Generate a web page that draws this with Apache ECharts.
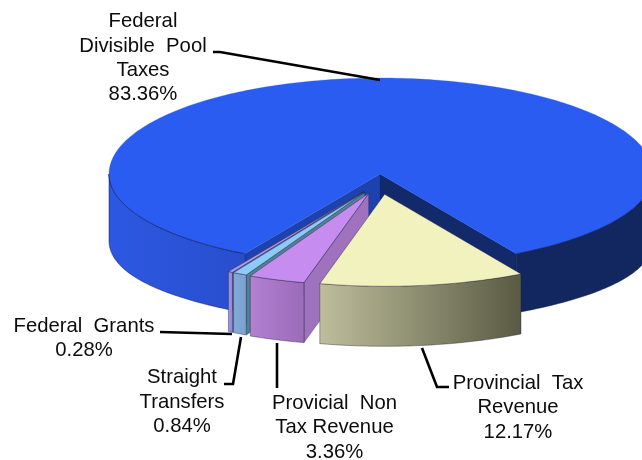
<!DOCTYPE html>
<html><head><meta charset="utf-8">
<style>html,body{margin:0;padding:0;background:#fff}#c{width:642px;height:460px}</style>
<script src="https://cdn.jsdelivr.net/npm/echarts@6/dist/echarts.min.js"></script>
</head><body><div id="c"></div>
<script>
// ---- data ----
const names = ['Federal\nDivisible  Pool\nTaxes','Federal  Grants','Straight\nTransfers','Provicial  Non\nTax Revenue','Provincial  Tax\nRevenue'];
const values = [83.36,0.28,0.84,3.36,12.17];
const exploded = [0,1,1,1,1];
// ---- styles and layout ----
const topColors = ['#2B5CF2','#A99BEA','#8CCBF8','#C68CF0','#F2F2BF'];
const wallFrom  = ['#2C58E2','#9C94DE','#82A9D8','#B281D2','#BEBE9C'];
const wallTo    = ['#284ECC','#8F88D6','#7CA3CE','#9A6BB8','#5A5A44'];
const sideColors= ['#1D42AE','#7F6FB8','#4F8098','#9F72BE','#8A8A70'];
const labelPos = [[143,9.5],[84,314],[182,365.5],[334.5,391],[518,371]];
const leaders = [
  [[213,52],[220,52],[380,80]],
  [[160,332],[232,334]],
  [[224,384],[233,384],[241,337]],
  [[277,343],[277,388]],
  [[422,348],[437,387],[449,387]]
];
const CX=380,CY=174,RX_L=271,RX_R=273,RY_BACK=96,RY_FRONT=92,DEPTH=60,BLUE_DEPTH=58.5,SIDE_SAG=8,EX=33,EY=20.5;
const total = values.reduce((a,b)=>a+b,0);
const rad = d=>d*Math.PI/180;
const startAngles=[]; let acc=180-values[0]/total*180;
values.forEach(v=>{startAngles.push(acc); acc+=v/total*360;});

function pt(cx,cy,t,dz){const c=Math.cos(rad(t)),s=Math.sin(rad(t));
  return [cx+(s<0?RX_L:RX_R)*s, cy+(c>=0?RY_FRONT:RY_BACK)*c+(dz||0)];}
function arc(cx,cy,a,b,dz,sag){const out=[];const n=Math.max(2,Math.ceil(Math.abs(b-a)));
  for(let i=0;i<=n;i++){const t=a+(b-a)*i/n;
    out.push(pt(cx,cy,t,(dz||0)+(sag?sag*Math.pow(Math.sin(rad(t)),4):0)));} return out;}
const edge='rgba(30,25,50,0.55)';
const blueEdge='rgba(8,18,60,0.65)';
function poly(points,fill,stroke){return {type:'polygon',shape:{points},style:{fill,stroke:stroke||fill,lineWidth:stroke?0.7:0.3}};}
function grad(a,b){return new echarts.graphic.LinearGradient(0,0,1,0,[{offset:0,color:a},{offset:1,color:b}]);}
function radial(cx,cy,t,d,fill,stroke){const p=pt(cx,cy,t);
  return poly([[cx,cy],p,[p[0],p[1]+d],[cx,cy+d]],fill,stroke);}

function renderItem(params,api){
  const i=params.dataIndex, v=api.value(0);
  const a=startAngles[i], b=a+v/total*360, m=(a+b)/2;
  const ex=exploded[i];
  const cx=CX+(ex?EX*Math.sin(rad(m)):0), cy=CY+(ex?EY*Math.cos(rad(m)):0);
  const ch=[];
  if(i===0){
    ch.push(radial(cx,cy,b,BLUE_DEPTH,sideColors[0]));
    ch.push(radial(cx,cy,a,BLUE_DEPTH,'#12296A'));
    const l=arc(cx,cy,270,b), l2=arc(cx,cy,b,270,BLUE_DEPTH,SIDE_SAG);
    ch.push(poly(l.concat(l2),grad(wallFrom[0],wallTo[0]),blueEdge));
    const r=arc(cx,cy,a,90), r2=arc(cx,cy,90,a,BLUE_DEPTH,SIDE_SAG);
    ch.push(poly(r.concat(r2),'#12275F',blueEdge));
    ch.push(poly([[cx,cy]].concat(arc(cx,cy,a,b)),topColors[0]));
    ch.push({type:'polyline',shape:{points:arc(cx,cy,270,b)},style:{fill:'none',stroke:blueEdge,lineWidth:0.8}});
    ch.push({type:'polyline',shape:{points:arc(cx,cy,a,90)},style:{fill:'none',stroke:blueEdge,lineWidth:0.8}});
  } else {
    const tax = b>360;
    if(!tax) ch.push(radial(cx,cy,b,DEPTH,sideColors[i],edge));
    ch.push(poly(arc(cx,cy,a,b).concat(arc(cx,cy,b,a,DEPTH)),grad(wallFrom[i],wallTo[i]),edge));
    ch.push(poly([[cx,cy]].concat(arc(cx,cy,a,b)),topColors[i],edge));
  }
  ch.push({type:'polyline',shape:{points:leaders[i]},style:{fill:'none',stroke:'#000',lineWidth:2.6},z2:20});
  const pct=v.toFixed(2)+'%';
  ch.push({type:'text',x:labelPos[i][0],y:labelPos[i][1],z2:30,style:{
    text:names[i]+'\n'+pct,fill:'#0c0c0c',font:'20.3px "Liberation Sans", Arial, sans-serif',
    align:'center',verticalAlign:'top',lineHeight:24.4}});
  return {type:'group',children:ch};
}
const chart=echarts.init(document.getElementById('c'),null,{renderer:'canvas'});
chart.setOption({
  animation:false,backgroundColor:'#fff',
  series:[{type:'custom',coordinateSystem:'none',renderItem,clip:false,
    data:values.map((v,i)=>({value:[v],name:names[i]}))}]
});
</script></body></html>
